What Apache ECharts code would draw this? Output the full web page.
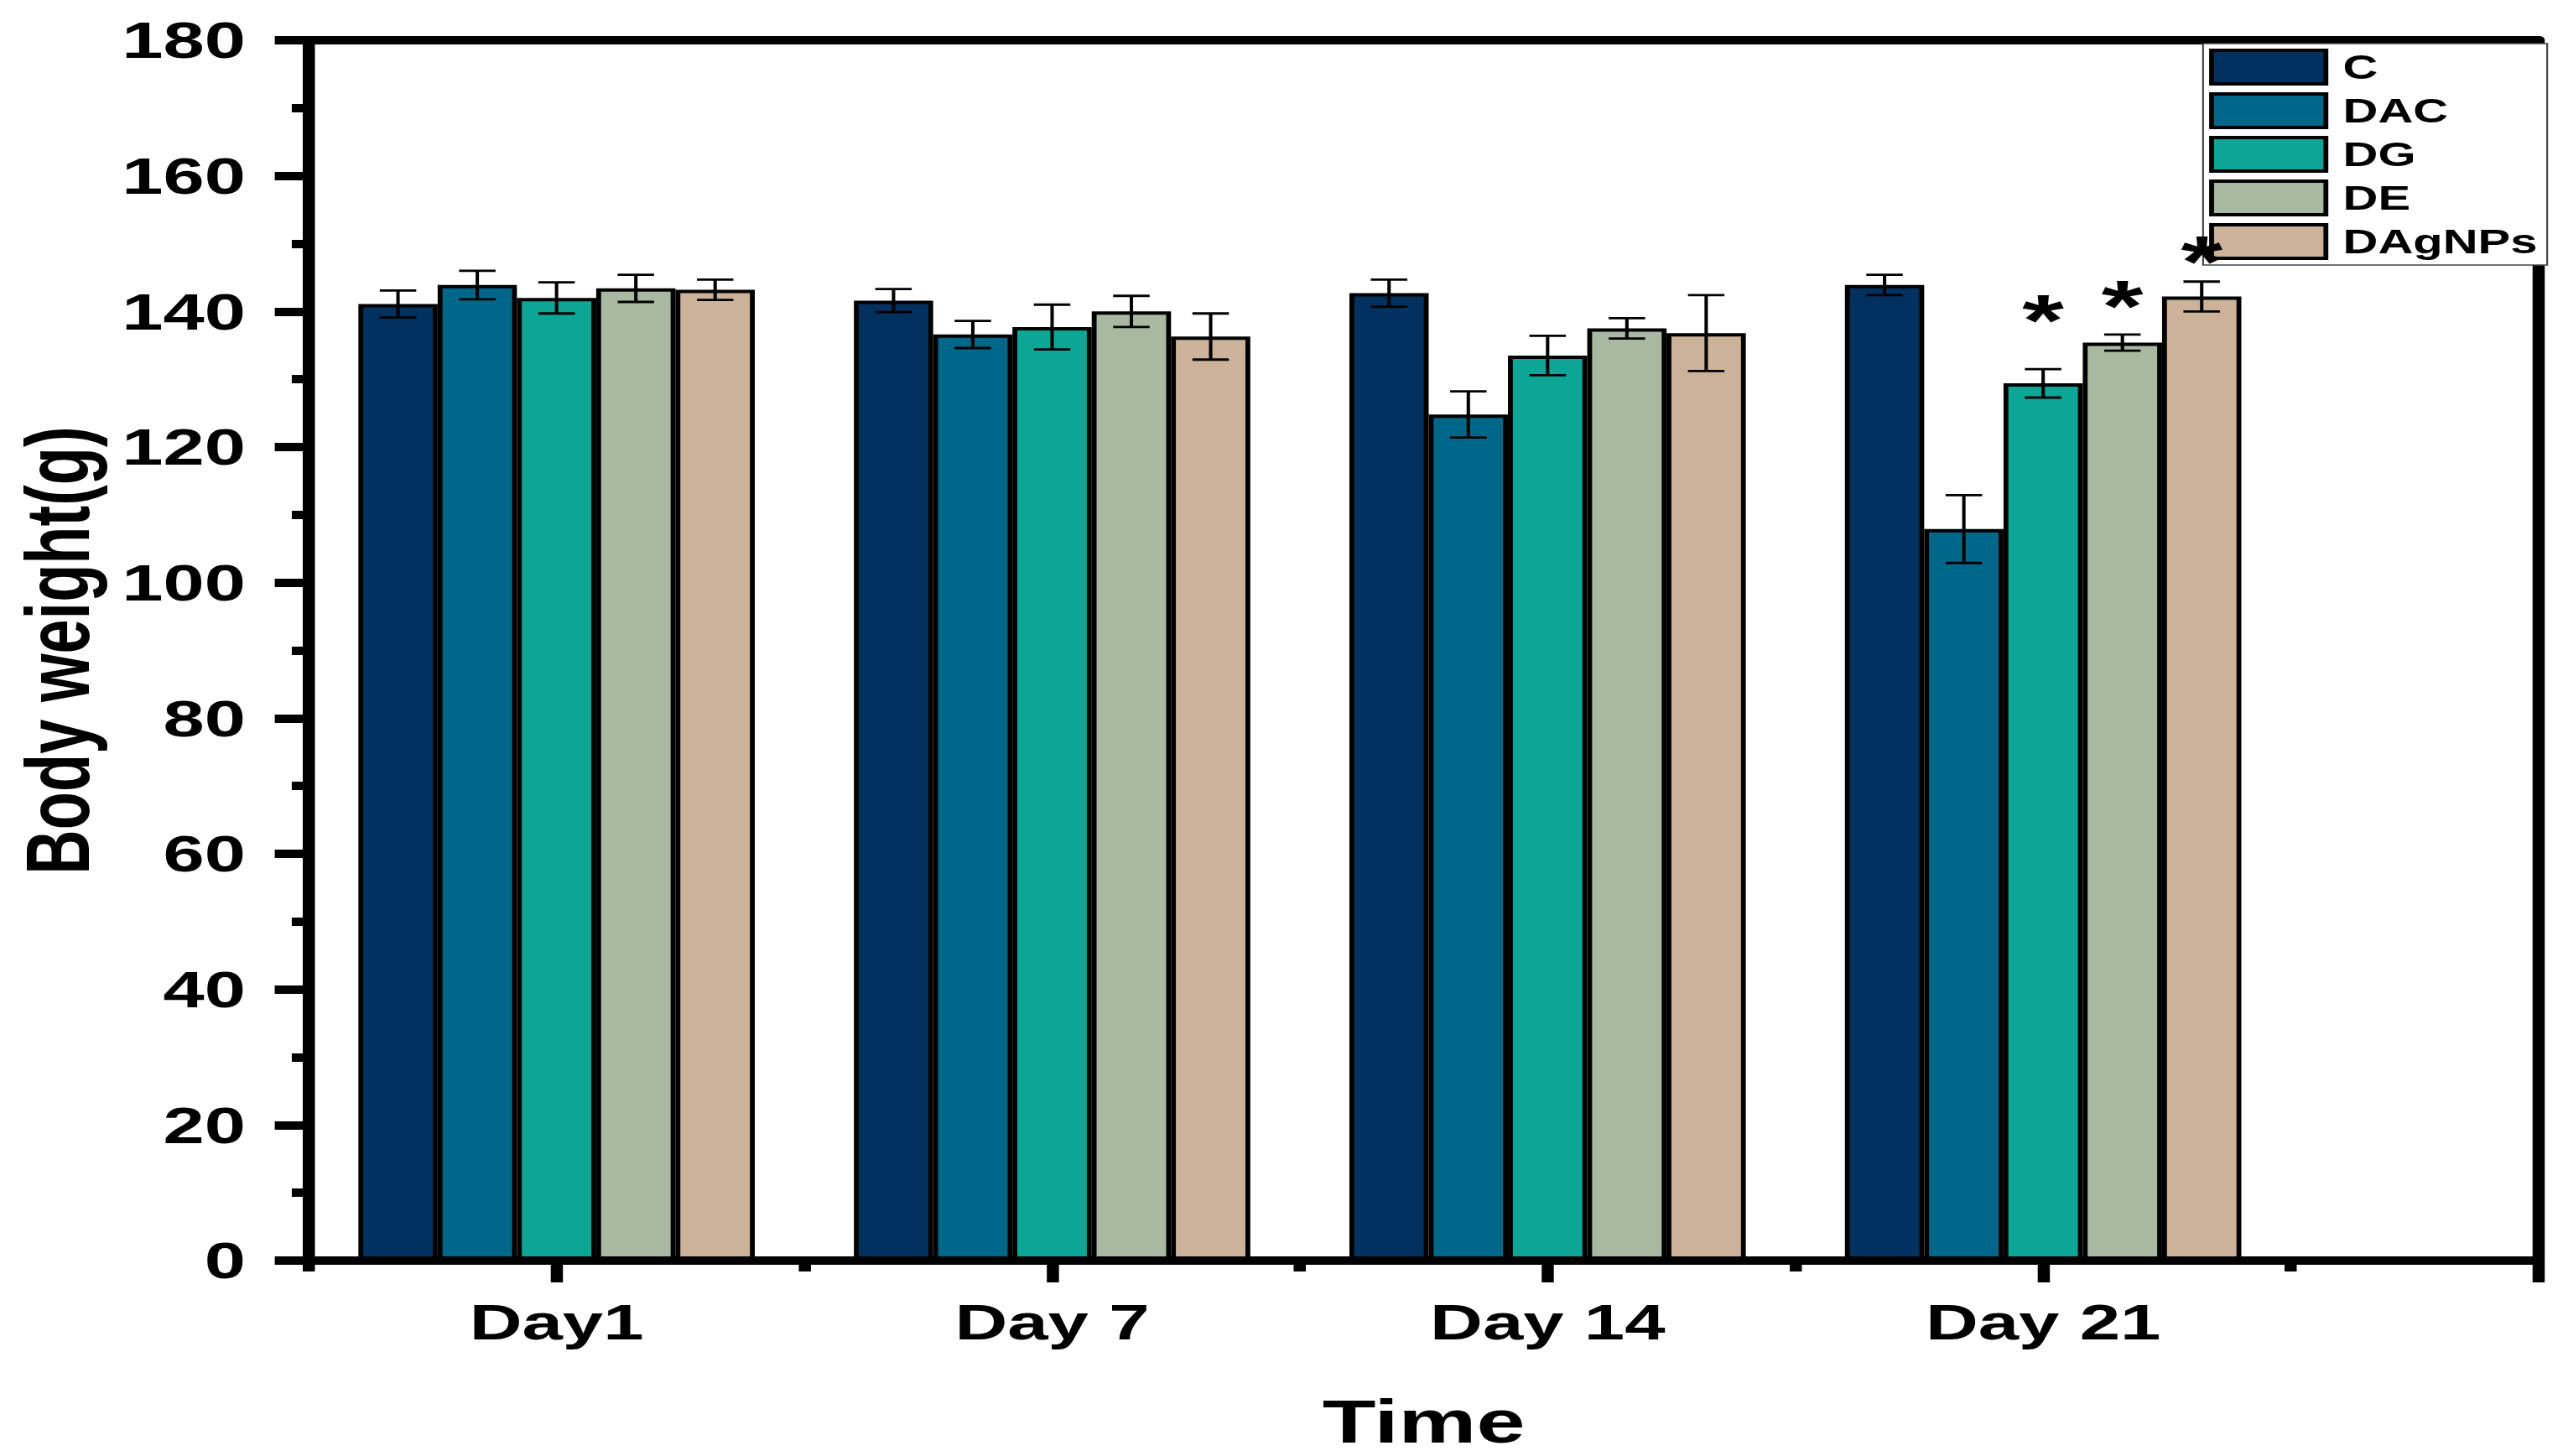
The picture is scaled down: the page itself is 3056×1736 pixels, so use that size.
<!DOCTYPE html>
<html><head><meta charset="utf-8">
<script src="https://cdn.jsdelivr.net/npm/echarts@6/dist/echarts.min.js"></script>
<style>
html,body{margin:0;padding:0;background:#fff;overflow:hidden;width:3056px;height:1736px}
#chart{width:2108px;height:1736px;transform:scaleX(1.4497);transform-origin:0 0}
</style></head><body><div id="chart"></div>
<script>
// ---- data ----
const categories = ['Day1', 'Day 7', 'Day 14', 'Day 21'];
const groups = ['C', 'DAC', 'DG', 'DE', 'DAgNPs'];
const meanC      = [141.1, 141.6, 142.7, 143.9];
const meanDAC    = [143.9, 136.6, 124.8, 107.9];
const meanDG     = [142.0, 137.7, 133.5, 129.4];
const meanDE     = [143.4, 140.0, 137.5, 135.4];
const meanDAgNPs = [143.2, 136.3, 136.8, 142.2];
const errC      = [2.0, 1.7, 2.0, 1.5];
const errDAC    = [2.1, 2.0, 3.4, 5.0];
const errDG     = [2.3, 3.3, 2.9, 2.1];
const errDE     = [2.0, 2.3, 1.5, 1.2];
const errDAgNPs = [1.5, 3.4, 5.6, 2.2];
// significance markers: group, day index, height (g) of the asterisk
const sigGroup = ['DG', 'DE', 'DAgNPs'];
const sigDay   = [3, 3, 3];
const sigY     = [140.8, 142.9, 149.5];
const sigText  = ['*', '*', '*'];
// axis ticks
const yMin = 0, yMax = 180, yStep = 20;
const xMajorTicks = [0, 1, 2, 3, 4];
const xMinorTicks = [-0.5, 0.5, 1.5, 2.5, 3.5];
const xLabelTicks = [0, 1, 2, 3];

// ---- style ----
const colors = ['#03315f', '#006788', '#0ca596', '#a9b9a1', '#ccb298'];
const means = [meanC, meanDAC, meanDG, meanDE, meanDAgNPs];
const errs = [errC, errDAC, errDG, errDE, errDAgNPs];
const FONT = "'Liberation Sans', Arial, sans-serif";
const CAT_GAP = 0.2;
const N = groups.length;

function offsetFor(api, gi) {
  const band = api.size([1, 0])[0];
  const bw = band * (1 - CAT_GAP) / N;
  return { off: (gi - (N - 1) / 2) * bw, bw: bw };
}

const series = [];
groups.forEach(function (g, gi) {
  series.push({
    name: g, type: 'bar', xAxisIndex: 0, yAxisIndex: 0,
    barGap: '0%', barCategoryGap: (CAT_GAP * 100) + '%',
    itemStyle: { color: colors[gi], borderColor: '#000', borderWidth: 4 },
    data: means[gi].map(function (v, i) { return [i, v]; }),
    z: 2
  });
});
groups.forEach(function (g, gi) {
  series.push({
    name: g + ' error', type: 'custom', xAxisIndex: 0, yAxisIndex: 0, z: 4,
    encode: { x: 0, y: [1, 2] },
    data: means[gi].map(function (v, i) { return [i, v - errs[gi][i], v + errs[gi][i]]; }),
    renderItem: function (params, api) {
      const x = api.value(0);
      const lo = api.coord([x, api.value(1)]);
      const hi = api.coord([x, api.value(2)]);
      const o = offsetFor(api, gi);
      const cx = lo[0] + o.off;
      const cap = o.bw * 0.23;
      const st = { stroke: '#000', lineWidth: 2.8 };
      return { type: 'group', children: [
        { type: 'line', shape: { x1: cx, y1: lo[1], x2: cx, y2: hi[1] }, style: st },
        { type: 'line', shape: { x1: cx - cap, y1: lo[1], x2: cx + cap, y2: lo[1] }, style: st },
        { type: 'line', shape: { x1: cx - cap, y1: hi[1], x2: cx + cap, y2: hi[1] }, style: st }
      ]};
    }
  });
});
series.push({
  name: 'significance', type: 'custom', xAxisIndex: 0, yAxisIndex: 0, z: 5,
  encode: { x: 0, y: 1 },
  data: sigDay.map(function (d, k) { return [d, sigY[k], groups.indexOf(sigGroup[k]), sigText[k]]; }),
  renderItem: function (params, api) {
    const p = api.coord([api.value(0), api.value(1)]);
    const o = offsetFor(api, api.value(2));
    return { type: 'text', x: p[0] + o.off, y: p[1] + 17,
      style: { text: sigText[params.dataIndex], fill: '#000', font: "bold 88px " + FONT, align: 'center', verticalAlign: 'middle' } };
  }
});

const axisLineStyle = { color: '#000', width: 10 };
const chart = echarts.init(document.getElementById('chart'), null, { renderer: 'svg' });
chart.setOption({
  backgroundColor: '#fff',
  animation: false,
  grid: { left: 254, right: 20, top: 48, bottom: 233, containLabel: false },
  legend: {
    data: groups, orient: 'vertical', left: 1812, top: 52,
    icon: 'rect', itemWidth: 94, itemHeight: 40, itemGap: 8,
    padding: [6, 8, 6, 5], backgroundColor: '#fff', borderColor: '#444', borderWidth: 1.5,
    itemStyle: { borderColor: '#000', borderWidth: 4 },
    textStyle: { fontFamily: FONT, fontWeight: 'bold', fontSize: 40, lineHeight: 40, color: '#000', padding: [0, 0, 0, 9] },
    selectedMode: false
  },
  xAxis: [
    { type: 'value', position: 'bottom', min: -0.5, max: 4,
      name: 'Time', nameLocation: 'middle', nameGap: 156,
      nameTextStyle: { fontFamily: FONT, fontWeight: 'bold', fontSize: 72, color: '#000' },
      axisLine: { show: true, onZero: false, lineStyle: axisLineStyle },
      axisTick: { show: true, length: 26, customValues: xMajorTicks, lineStyle: { color: '#000', width: 10 } },
      axisLabel: { show: true, margin: 43, customValues: xLabelTicks,
        formatter: function (v) { return categories[Math.round(v)] || ''; },
        fontFamily: FONT, fontWeight: 'bold', fontSize: 60, color: '#000' },
      splitLine: { show: false }, z: 6 },
    { type: 'value', position: 'bottom', min: -0.5, max: 4,
      axisLine: { show: false },
      axisTick: { show: true, length: 13, customValues: xMinorTicks, lineStyle: { color: '#000', width: 10 } },
      axisLabel: { show: false }, splitLine: { show: false } },
    { type: 'value', position: 'top', min: -0.5, max: 4,
      axisLine: { show: true, onZero: false, lineStyle: axisLineStyle },
      axisTick: { show: false }, axisLabel: { show: false }, splitLine: { show: false } }
  ],
  yAxis: [
    { type: 'value', position: 'left', min: yMin, max: yMax, interval: yStep,
      name: 'Body weight(g)', nameLocation: 'middle', nameGap: 169,
      nameTextStyle: { fontFamily: FONT, fontWeight: 'bold', fontSize: 74, color: '#000' },
      axisLine: { show: true, onZero: false, lineStyle: axisLineStyle },
      axisTick: { show: true, length: 28, lineStyle: { color: '#000', width: 10 } },
      minorTick: { show: true, splitNumber: 2, length: 14, lineStyle: { color: '#000', width: 10 } },
      axisLabel: { margin: 52, fontFamily: FONT, fontWeight: 'bold', fontSize: 61, color: '#000' },
      splitLine: { show: false }, z: 6 },
    { type: 'value', position: 'right', min: yMin, max: yMax, interval: yStep,
      axisLine: { show: true, onZero: false, lineStyle: axisLineStyle },
      axisTick: { show: false }, axisLabel: { show: false }, splitLine: { show: false } }
  ],
  series: series
});
</script></body></html>
